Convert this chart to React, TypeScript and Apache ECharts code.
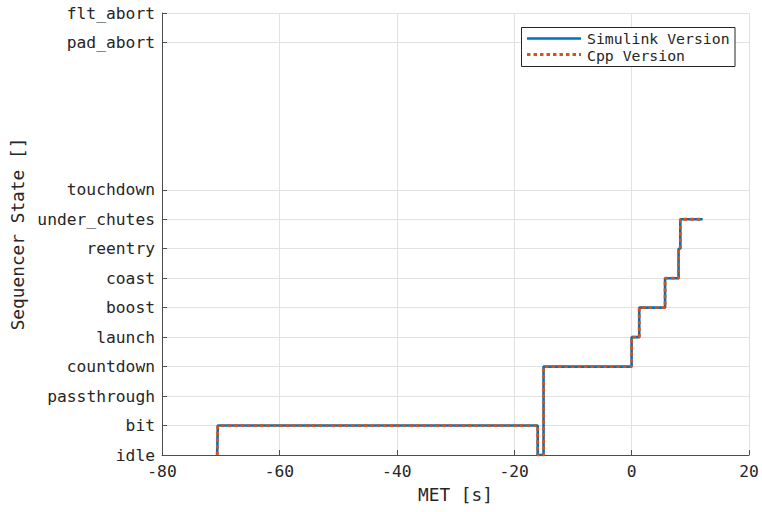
import React, { useEffect, useRef } from "react";
import * as echarts from "echarts";

const stateNames = ["idle", "bit", "passthrough", "countdown", "launch", "boost", "coast", "reentry", "under_chutes", "touchdown", "pad_abort", "flt_abort"];
const stateValues = [0, 1, 2, 3, 4, 5, 6, 7, 8, 9, 14, 15];

const simTimes = [-70.6, -70.5, -16.0, -15.0, 0.0, 1.3, 5.7, 8.0, 8.3, 12.1];
const simStates = [0, 1, 0, 3, 4, 5, 6, 7, 8, 8];
const cppTimes = [-70.6, -70.5, -16.0, -15.0, 0.0, 1.3, 5.7, 8.0, 8.3, 12.1];
const cppStates = [0, 1, 0, 3, 4, 5, 6, 7, 8, 8];

const xTicks = [-80, -60, -40, -20, 0, 20];

const FONT = "'DejaVu Sans Mono', monospace";
const TXT = "#262626";

export default function App() {
  const ref = useRef<HTMLDivElement>(null);
  useEffect(() => {
    if (!ref.current) return;
    const chart = echarts.init(ref.current, undefined, { renderer: "svg" });
    const nameOf = (v: number) => {
      const i = stateValues.indexOf(Math.round(v));
      return i >= 0 && Math.abs(v - stateValues[i]) < 1e-6 ? stateNames[i] : "";
    };
    chart.setOption({
      animation: false,
      backgroundColor: "#ffffff",
      grid: { left: 162, right: 13, top: 13, bottom: 57, containLabel: false },
      xAxis: {
        type: "value",
        min: xTicks[0],
        max: xTicks[xTicks.length - 1],
        interval: 20,
        name: "MET [s]",
        nameLocation: "middle",
        nameGap: 30,
        nameTextStyle: { fontFamily: FONT, fontSize: 17.8, color: TXT },
        axisLine: { show: true, onZero: false, lineStyle: { color: "#4d4d4d", width: 1 } },
        axisTick: { show: true, inside: true, length: 5, lineStyle: { color: "#4d4d4d" } },
        axisLabel: { fontFamily: FONT, fontSize: 16.3, color: TXT, margin: 8 },
        splitLine: { show: true, lineStyle: { color: "#e2e2e2", width: 1 } },
      },
      yAxis: {
        type: "value",
        min: 0,
        max: 15,
        interval: 1,
        name: "Sequencer State []",
        nameLocation: "middle",
        nameGap: 129,
        nameRotate: 90,
        nameTextStyle: { fontFamily: FONT, fontSize: 17.8, color: TXT },
        axisLine: { show: true, onZero: false, lineStyle: { color: "#4d4d4d", width: 1 } },
        axisTick: { show: true, inside: true, length: 5, customValues: stateValues, lineStyle: { color: "#4d4d4d" } },
        axisLabel: {
          fontFamily: FONT,
          fontSize: 16.3,
          color: TXT,
          margin: 7,
          customValues: stateValues,
          formatter: (v: number) => nameOf(v),
        },
        splitLine: { show: false },
      },
      series: [
        {
          name: "Simulink Version",
          type: "line",
          step: "end",
          showSymbol: false,
          data: simTimes.map((t, i) => [t, simStates[i]]),
          lineStyle: { color: "#0072BD", width: 2.6 },
          markLine: {
            silent: true,
            symbol: "none",
            label: { show: false },
            lineStyle: { color: "#e2e2e2", width: 1, type: "solid" },
            data: stateValues.filter((v) => v > 0).map((v) => ({ yAxis: v })),
            z: 0,
          },
          z: 2,
        },
        {
          name: "Cpp Version",
          type: "line",
          step: "end",
          showSymbol: false,
          data: cppTimes.map((t, i) => [t, cppStates[i]]),
          lineStyle: { color: "#D95319", width: 2.8, type: [3.5, 3] },
          z: 3,
        },
      ],
      graphic: [
        {
          type: "rect",
          shape: { x: 521.5, y: 27.5, width: 213.5, height: 39 },
          style: { fill: "#ffffff", stroke: "#262626", lineWidth: 1 },
          z: 10,
        },
        {
          type: "line",
          shape: { x1: 527, y1: 38.5, x2: 581, y2: 38.5 },
          style: { stroke: "#0072BD", lineWidth: 2.6 },
          z: 11,
        },
        {
          type: "line",
          shape: { x1: 527, y1: 54.5, x2: 581, y2: 54.5 },
          style: { stroke: "#D95319", lineWidth: 2.8, lineDash: [3.5, 3] },
          z: 11,
        },
        {
          type: "text",
          x: 587,
          y: 38.5,
          style: { text: "Simulink Version", fontFamily: FONT, fontSize: 14.8, fill: TXT, verticalAlign: "middle", align: "left" },
          z: 11,
        },
        {
          type: "text",
          x: 587,
          y: 55,
          style: { text: "Cpp Version", fontFamily: FONT, fontSize: 14.8, fill: TXT, verticalAlign: "middle", align: "left" },
          z: 11,
        },
      ],
    });
    return () => chart.dispose();
  }, []);
  return <div ref={ref} style={{ width: 762, height: 512, position: "absolute", left: 0, top: 0 }} />;
}
